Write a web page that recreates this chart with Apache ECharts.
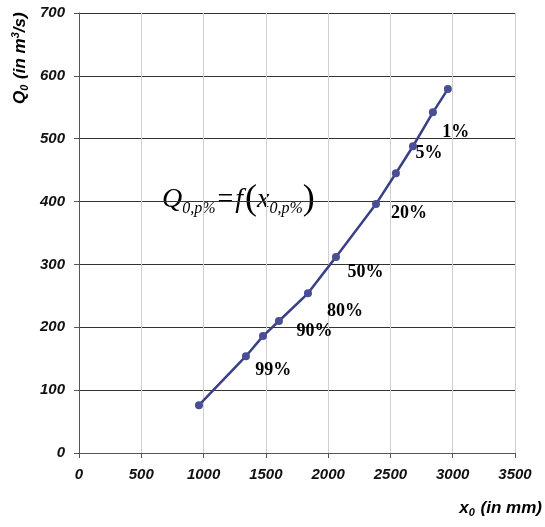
<!DOCTYPE html>
<html>
<head>
<meta charset="utf-8">
<script src="https://cdn.jsdelivr.net/npm/echarts@6/dist/echarts.min.js"></script>
<style>
  html, body { margin: 0; padding: 0; background: #fff; }
  #main { width: 545px; height: 527px; }
</style>
</head>
<body>
<div id="main"></div>
<script>
var xValues = [963, 1340, 1477, 1605, 1838, 2063, 2384, 2544, 2681, 2841, 2961];
var qValues = [76, 154, 186, 210, 254, 312, 396, 445, 488, 542, 579];

// probability labels, placed in data units next to the curve
var pctLabels = ['1%', '5%', '20%', '50%', '80%', '90%', '99%'];
var pctX = [3025, 2810, 2650, 2300, 2135, 1890, 1560];
var pctY = [510, 477, 382, 288, 225, 194, 131];

var chart = echarts.init(document.getElementById('main'));

var tickFont = { fontFamily: 'Liberation Sans', fontStyle: 'italic', fontWeight: 'bold', fontSize: 15, color: '#111' };
var titleFont = { fontFamily: 'Liberation Sans', fontStyle: 'italic', fontWeight: 'bold', fontSize: 17, color: '#111' };
var subFont = { fontFamily: 'Liberation Sans', fontStyle: 'italic', fontWeight: 'bold', fontSize: 11, color: '#111' };

var option = {
    backgroundColor: '#fff',
    animation: false,
    grid: { left: 79, right: 30, top: 13, bottom: 74 },
    xAxis: {
        type: 'value',
        min: 0, max: 3500, interval: 500,
        axisLine: { onZero: false, lineStyle: { color: '#555', width: 1 } },
        axisTick: { show: true, length: 5, lineStyle: { color: '#555' } },
        axisLabel: Object.assign({ margin: 14, formatter: function (v) { return String(v); } }, tickFont),
        splitLine: { show: true, lineStyle: { color: '#cfcfcf', width: 1 } }
    },
    yAxis: {
        type: 'value',
        min: 0, max: 700, interval: 100,
        axisLine: { show: true, lineStyle: { color: '#555', width: 1 } },
        axisTick: { show: true, length: 5, lineStyle: { color: '#555' } },
        axisLabel: Object.assign({ margin: 14 }, tickFont),
        splitLine: { show: true, lineStyle: { color: '#333', width: 1 } }
    },
    graphic: [
        {
            type: 'text', x: 20, y: 104,
            rotation: Math.PI / 2,
            style: {
                text: '{a|Q}{s|0}{a| (in m}{p|3}{a|/s)}',
                align: 'left', verticalAlign: 'middle',
                rich: {
                    a: titleFont,
                    s: Object.assign({ padding: [9, 1, 0, 0] }, subFont),
                    p: Object.assign({ padding: [0, 0, 8, 0] }, subFont)
                }
            }
        },
        {
            type: 'text', x: 542, y: 508,
            style: {
                text: '{a|x}{s|0}{a| (in mm)}',
                align: 'right', verticalAlign: 'middle',
                rich: {
                    a: titleFont,
                    s: Object.assign({ padding: [9, 1, 0, 0] }, subFont)
                }
            }
        },
        {
            type: 'text', x: 162, y: 200,
            style: {
                text: '{q|Q}{s|0,p%}{e|=}{f|f}{b|(}{q|x}{s|0,p%}{b|)}',
                align: 'left', verticalAlign: 'middle',
                rich: {
                    q: { fontFamily: 'Liberation Serif', fontStyle: 'italic', fontSize: 28, color: '#111' },
                    f: { fontFamily: 'Liberation Serif', fontStyle: 'italic', fontSize: 28, color: '#111', padding: [0, 2, 0, 2] },
                    e: { fontFamily: 'Liberation Serif', fontSize: 28, color: '#111', padding: [0, 0, 0, 2] },
                    b: { fontFamily: 'Liberation Serif', fontSize: 36, color: '#111' },
                    s: { fontFamily: 'Liberation Serif', fontStyle: 'italic', fontSize: 16, color: '#111', padding: [18, 0, 0, 0] }
                }
            }
        }
    ],
    series: [
        {
            type: 'line',
            data: xValues.map(function (x, i) { return [x, qValues[i]]; }),
            symbol: 'circle',
            symbolSize: 8,
            lineStyle: { color: '#3b3f86', width: 2.5 },
            itemStyle: { color: '#4a4f95' },
            z: 5
        },
        {
            type: 'scatter',
            symbolSize: 1,
            itemStyle: { opacity: 0 },
            silent: true,
            data: pctLabels.map(function (t, i) { return { value: [pctX[i], pctY[i]], name: t }; }),
            label: {
                show: true,
                position: 'inside',
                formatter: '{b}',
                fontFamily: 'Liberation Serif',
                fontWeight: 'bold',
                fontSize: 18,
                color: '#000',
                opacity: 1
            }
        }
    ]
};

chart.setOption(option);
</script>
</body>
</html>
